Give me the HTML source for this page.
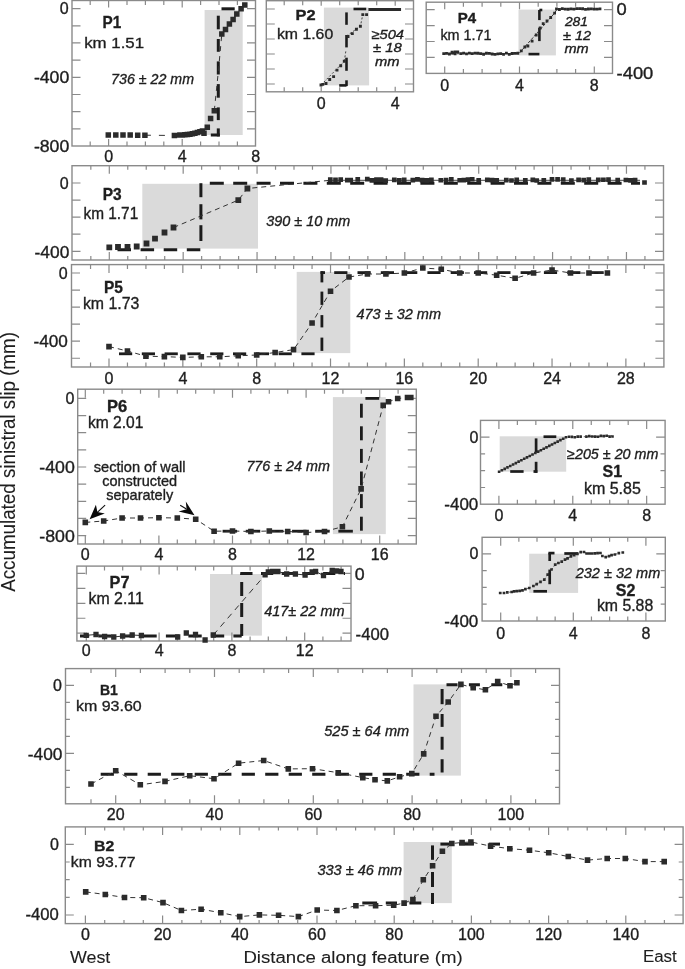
<!DOCTYPE html>
<html><head><meta charset="utf-8"><style>
html,body{margin:0;padding:0;background:#fff;}
svg{display:block;will-change:transform;}
text{font-family:"Liberation Sans", sans-serif;fill:#1e1e1e;stroke:#1e1e1e;stroke-width:0.35px;}
</style></head><body>
<svg width="685" height="969" viewBox="0 0 685 969">
<rect width="685" height="969" fill="#fff"/>
<rect x="204.6" y="10" width="38.1" height="125" fill="#dadada"/>
<rect x="323.9" y="7.6" width="45.2" height="77.8" fill="#dadada"/>
<rect x="518.5" y="9.6" width="37.4" height="45.8" fill="#dadada"/>
<rect x="142.3" y="183.8" width="115.7" height="64.8" fill="#dadada"/>
<rect x="296.7" y="271.9" width="53.6" height="81.2" fill="#dadada"/>
<rect x="332.9" y="397.1" width="52.9" height="137" fill="#dadada"/>
<rect x="210" y="574" width="51.9" height="61.6" fill="#dadada"/>
<rect x="499.7" y="436.3" width="66.5" height="35.4" fill="#dadada"/>
<rect x="529.2" y="553.7" width="48.9" height="39.2" fill="#dadada"/>
<rect x="413.5" y="684.4" width="47.4" height="91.2" fill="#dadada"/>
<rect x="403.6" y="842" width="48.2" height="61.1" fill="#dadada"/>
<rect x="72" y="0.5" width="183.5" height="145.5" fill="none" stroke="#8a8a8a" stroke-width="1.4"/>
<path d="M72 8.6h8.5M255.5 8.6h-8.5M72 25.78h8.5M255.5 25.78h-8.5M72 42.96h8.5M255.5 42.96h-8.5M72 60.14h8.5M255.5 60.14h-8.5M72 77.32h8.5M255.5 77.32h-8.5M72 94.5h8.5M255.5 94.5h-8.5M72 111.68h8.5M255.5 111.68h-8.5M72 128.86h8.5M255.5 128.86h-8.5" stroke="#8a8a8a" stroke-width="1.2" fill="none"/>
<path d="M90.2 146v-4.5M90.2 0.5v4.5M108.6 146v-7M108.6 0.5v7M127 146v-4.5M127 0.5v4.5M145.4 146v-4.5M145.4 0.5v4.5M163.8 146v-4.5M163.8 0.5v4.5M182.2 146v-7M182.2 0.5v7M200.6 146v-4.5M200.6 0.5v4.5M219 146v-4.5M219 0.5v4.5M237.4 146v-4.5M237.4 0.5v4.5" stroke="#8a8a8a" stroke-width="1.2" fill="none"/>
<rect x="266.3" y="0.7" width="147.2" height="91.1" fill="none" stroke="#8a8a8a" stroke-width="1.4"/>
<path d="M266.3 9h8.5M413.5 9h-8.5M266.3 24h8.5M413.5 24h-8.5M266.3 39h8.5M413.5 39h-8.5M266.3 54h8.5M413.5 54h-8.5M266.3 69h8.5M413.5 69h-8.5M266.3 84h8.5M413.5 84h-8.5" stroke="#8a8a8a" stroke-width="1.2" fill="none"/>
<path d="M284.2 91.8v-4.5M284.2 0.7v4.5M302.7 91.8v-4.5M302.7 0.7v4.5M321.2 91.8v-5M321.2 0.7v5M339.7 91.8v-4.5M339.7 0.7v4.5M358.2 91.8v-4.5M358.2 0.7v4.5M376.7 91.8v-4.5M376.7 0.7v4.5M395.2 91.8v-5M395.2 0.7v5" stroke="#8a8a8a" stroke-width="1.2" fill="none"/>
<rect x="426.2" y="2.2" width="186.3" height="71.2" fill="none" stroke="#8a8a8a" stroke-width="1.4"/>
<path d="M426.2 9.6h8.5M612.5 9.6h-8.5M426.2 25.55h8.5M612.5 25.55h-8.5M426.2 41.5h8.5M612.5 41.5h-8.5M426.2 57.45h8.5M612.5 57.45h-8.5" stroke="#8a8a8a" stroke-width="1.2" fill="none"/>
<path d="M444.7 73.4v-7M444.7 2.2v7M463.4 73.4v-4.5M463.4 2.2v4.5M482.1 73.4v-4.5M482.1 2.2v4.5M500.8 73.4v-4.5M500.8 2.2v4.5M519.5 73.4v-7M519.5 2.2v7M538.2 73.4v-4.5M538.2 2.2v4.5M556.9 73.4v-4.5M556.9 2.2v4.5M575.6 73.4v-4.5M575.6 2.2v4.5M594.3 73.4v-7M594.3 2.2v7" stroke="#8a8a8a" stroke-width="1.2" fill="none"/>
<rect x="72" y="165.7" width="591.5" height="94.3" fill="none" stroke="#8a8a8a" stroke-width="1.4"/>
<path d="M72 183h8.5M663.5 183h-8.5M72 200.07h8.5M663.5 200.07h-8.5M72 217.14h8.5M663.5 217.14h-8.5M72 234.21h8.5M663.5 234.21h-8.5M72 251.28h8.5M663.5 251.28h-8.5" stroke="#8a8a8a" stroke-width="1.2" fill="none"/>
<path d="M90.83 260v-4M90.83 165.7v4M109.3 260v-8M109.3 165.7v8M127.77 260v-4M127.77 165.7v4M146.24 260v-4M146.24 165.7v4M164.71 260v-4M164.71 165.7v4M183.18 260v-8M183.18 165.7v8M201.65 260v-4M201.65 165.7v4M220.12 260v-4M220.12 165.7v4M238.59 260v-4M238.59 165.7v4M257.06 260v-8M257.06 165.7v8M275.53 260v-4M275.53 165.7v4M294 260v-4M294 165.7v4M312.47 260v-4M312.47 165.7v4M330.94 260v-8M330.94 165.7v8M349.41 260v-4M349.41 165.7v4M367.88 260v-4M367.88 165.7v4M386.35 260v-4M386.35 165.7v4M404.82 260v-8M404.82 165.7v8M423.29 260v-4M423.29 165.7v4M441.76 260v-4M441.76 165.7v4M460.23 260v-4M460.23 165.7v4M478.7 260v-8M478.7 165.7v8M497.17 260v-4M497.17 165.7v4M515.64 260v-4M515.64 165.7v4M534.11 260v-4M534.11 165.7v4M552.58 260v-8M552.58 165.7v8M571.05 260v-4M571.05 165.7v4M589.52 260v-4M589.52 165.7v4M607.99 260v-4M607.99 165.7v4M626.46 260v-8M626.46 165.7v8M644.93 260v-4M644.93 165.7v4" stroke="#8a8a8a" stroke-width="1.2" fill="none"/>
<rect x="71.5" y="264.6" width="592.4" height="102.4" fill="none" stroke="#8a8a8a" stroke-width="1.4"/>
<path d="M71.5 273h8.5M663.9 273h-8.5M71.5 290.05h8.5M663.9 290.05h-8.5M71.5 307.1h8.5M663.9 307.1h-8.5M71.5 324.15h8.5M663.9 324.15h-8.5M71.5 341.2h8.5M663.9 341.2h-8.5M71.5 358.25h8.5M663.9 358.25h-8.5" stroke="#8a8a8a" stroke-width="1.2" fill="none"/>
<path d="M90.54 367v-4.5M90.54 264.6v4.5M109 367v-8.5M109 264.6v8.5M127.46 367v-4.5M127.46 264.6v4.5M145.92 367v-4.5M145.92 264.6v4.5M164.38 367v-4.5M164.38 264.6v4.5M182.84 367v-8.5M182.84 264.6v8.5M201.3 367v-4.5M201.3 264.6v4.5M219.76 367v-4.5M219.76 264.6v4.5M238.22 367v-4.5M238.22 264.6v4.5M256.68 367v-8.5M256.68 264.6v8.5M275.14 367v-4.5M275.14 264.6v4.5M293.6 367v-4.5M293.6 264.6v4.5M312.06 367v-4.5M312.06 264.6v4.5M330.52 367v-8.5M330.52 264.6v8.5M348.98 367v-4.5M348.98 264.6v4.5M367.44 367v-4.5M367.44 264.6v4.5M385.9 367v-4.5M385.9 264.6v4.5M404.36 367v-8.5M404.36 264.6v8.5M422.82 367v-4.5M422.82 264.6v4.5M441.28 367v-4.5M441.28 264.6v4.5M459.74 367v-4.5M459.74 264.6v4.5M478.2 367v-8.5M478.2 264.6v8.5M496.66 367v-4.5M496.66 264.6v4.5M515.12 367v-4.5M515.12 264.6v4.5M533.58 367v-4.5M533.58 264.6v4.5M552.04 367v-8.5M552.04 264.6v8.5M570.5 367v-4.5M570.5 264.6v4.5M588.96 367v-4.5M588.96 264.6v4.5M607.42 367v-4.5M607.42 264.6v4.5M625.88 367v-8.5M625.88 264.6v8.5M644.34 367v-4.5M644.34 264.6v4.5" stroke="#8a8a8a" stroke-width="1.2" fill="none"/>
<rect x="77.7" y="389.2" width="338.6" height="154.8" fill="none" stroke="#8a8a8a" stroke-width="1.4"/>
<path d="M77.7 398.4h8.5M416.3 398.4h-8.5M77.7 415.55h8.5M416.3 415.55h-8.5M77.7 432.7h8.5M416.3 432.7h-8.5M77.7 449.85h8.5M416.3 449.85h-8.5M77.7 467h8.5M416.3 467h-8.5M77.7 484.15h8.5M416.3 484.15h-8.5M77.7 501.3h8.5M416.3 501.3h-8.5M77.7 518.45h8.5M416.3 518.45h-8.5M77.7 535.6h8.5M416.3 535.6h-8.5" stroke="#8a8a8a" stroke-width="1.2" fill="none"/>
<path d="M85.3 544v-8.5M85.3 389.2v8.5M103.7 544v-4.5M103.7 389.2v4.5M122.1 544v-4.5M122.1 389.2v4.5M140.5 544v-4.5M140.5 389.2v4.5M158.9 544v-8.5M158.9 389.2v8.5M177.3 544v-4.5M177.3 389.2v4.5M195.7 544v-4.5M195.7 389.2v4.5M214.1 544v-4.5M214.1 389.2v4.5M232.5 544v-8.5M232.5 389.2v8.5M250.9 544v-4.5M250.9 389.2v4.5M269.3 544v-4.5M269.3 389.2v4.5M287.7 544v-4.5M287.7 389.2v4.5M306.1 544v-8.5M306.1 389.2v8.5M324.5 544v-4.5M324.5 389.2v4.5M342.9 544v-4.5M342.9 389.2v4.5M361.3 544v-4.5M361.3 389.2v4.5M379.7 544v-8.5M379.7 389.2v8.5M398.1 544v-4.5M398.1 389.2v4.5" stroke="#8a8a8a" stroke-width="1.2" fill="none"/>
<rect x="76.9" y="566.1" width="274.1" height="74.9" fill="none" stroke="#8a8a8a" stroke-width="1.4"/>
<path d="M76.9 573.4h8.5M351 573.4h-8.5M76.9 588.35h8.5M351 588.35h-8.5M76.9 603.3h8.5M351 603.3h-8.5M76.9 618.25h8.5M351 618.25h-8.5M76.9 633.2h8.5M351 633.2h-8.5" stroke="#8a8a8a" stroke-width="1.2" fill="none"/>
<path d="M86.3 641v-8.5M86.3 566.1v8.5M104.5 641v-4.5M104.5 566.1v4.5M122.7 641v-4.5M122.7 566.1v4.5M140.9 641v-4.5M140.9 566.1v4.5M159.1 641v-8.5M159.1 566.1v8.5M177.3 641v-4.5M177.3 566.1v4.5M195.5 641v-4.5M195.5 566.1v4.5M213.7 641v-4.5M213.7 566.1v4.5M231.9 641v-8.5M231.9 566.1v8.5M250.1 641v-4.5M250.1 566.1v4.5M268.3 641v-4.5M268.3 566.1v4.5M286.5 641v-4.5M286.5 566.1v4.5M304.7 641v-8.5M304.7 566.1v8.5M322.9 641v-4.5M322.9 566.1v4.5M341.1 641v-4.5M341.1 566.1v4.5" stroke="#8a8a8a" stroke-width="1.2" fill="none"/>
<rect x="480.5" y="420.4" width="184.6" height="83.8" fill="none" stroke="#8a8a8a" stroke-width="1.4"/>
<path d="M480.5 437.1h9M665.1 437.1h-9M480.5 453.9h4.6M665.1 453.9h-4.6M480.5 470.7h4.6M665.1 470.7h-4.6M480.5 487.5h4.6M665.1 487.5h-4.6" stroke="#8a8a8a" stroke-width="1.2" fill="none"/>
<path d="M498.9 504.2v-8.5M498.9 420.4v8.5M517.37 504.2v-4.5M517.37 420.4v4.5M535.84 504.2v-4.5M535.84 420.4v4.5M554.31 504.2v-4.5M554.31 420.4v4.5M572.78 504.2v-8.5M572.78 420.4v8.5M591.25 504.2v-4.5M591.25 420.4v4.5M609.72 504.2v-4.5M609.72 420.4v4.5M628.19 504.2v-4.5M628.19 420.4v4.5M646.66 504.2v-8.5M646.66 420.4v8.5" stroke="#8a8a8a" stroke-width="1.2" fill="none"/>
<rect x="482.1" y="537.3" width="183.2" height="83.7" fill="none" stroke="#8a8a8a" stroke-width="1.4"/>
<path d="M482.1 553.8h9M665.3 553.8h-9M482.1 570.6h4.6M665.3 570.6h-4.6M482.1 587.4h4.6M665.3 587.4h-4.6M482.1 604.2h4.6M665.3 604.2h-4.6" stroke="#8a8a8a" stroke-width="1.2" fill="none"/>
<path d="M500.7 621v-8.5M500.7 537.3v8.5M518.85 621v-4.5M518.85 537.3v4.5M537 621v-4.5M537 537.3v4.5M555.15 621v-4.5M555.15 537.3v4.5M573.3 621v-8.5M573.3 537.3v8.5M591.45 621v-4.5M591.45 537.3v4.5M609.6 621v-4.5M609.6 537.3v4.5M627.75 621v-4.5M627.75 537.3v4.5M645.9 621v-8.5M645.9 537.3v8.5" stroke="#8a8a8a" stroke-width="1.2" fill="none"/>
<rect x="65.5" y="668.6" width="494" height="135.2" fill="none" stroke="#8a8a8a" stroke-width="1.4"/>
<path d="M65.5 685.3h8.5M559.5 685.3h-8.5M65.5 702.3h4.4M559.5 702.3h-4.4M65.5 719.3h4.4M559.5 719.3h-4.4M65.5 736.3h4.4M559.5 736.3h-4.4M65.5 753.3h8.5M559.5 753.3h-8.5M65.5 770.3h4.4M559.5 770.3h-4.4M65.5 787.3h4.4M559.5 787.3h-4.4" stroke="#8a8a8a" stroke-width="1.2" fill="none"/>
<path d="M91 803.8v-4.5M91 668.6v4.5M115.7 803.8v-8.5M115.7 668.6v8.5M140.4 803.8v-4.5M140.4 668.6v4.5M165.1 803.8v-4.5M165.1 668.6v4.5M189.8 803.8v-4.5M189.8 668.6v4.5M214.5 803.8v-8.5M214.5 668.6v8.5M239.2 803.8v-4.5M239.2 668.6v4.5M263.9 803.8v-4.5M263.9 668.6v4.5M288.6 803.8v-4.5M288.6 668.6v4.5M313.3 803.8v-8.5M313.3 668.6v8.5M338 803.8v-4.5M338 668.6v4.5M362.7 803.8v-4.5M362.7 668.6v4.5M387.4 803.8v-4.5M387.4 668.6v4.5M412.1 803.8v-8.5M412.1 668.6v8.5M436.8 803.8v-4.5M436.8 668.6v4.5M461.5 803.8v-4.5M461.5 668.6v4.5M486.2 803.8v-4.5M486.2 668.6v4.5M510.9 803.8v-8.5M510.9 668.6v8.5M535.6 803.8v-4.5M535.6 668.6v4.5" stroke="#8a8a8a" stroke-width="1.2" fill="none"/>
<rect x="65.3" y="826.9" width="617.8" height="96.7" fill="none" stroke="#8a8a8a" stroke-width="1.4"/>
<path d="M65.3 844.3h8.5M683.1 844.3h-8.5M65.3 861.98h4.4M683.1 861.98h-4.4M65.3 879.66h4.4M683.1 879.66h-4.4M65.3 897.34h4.4M683.1 897.34h-4.4M65.3 915.02h8.5M683.1 915.02h-8.5" stroke="#8a8a8a" stroke-width="1.2" fill="none"/>
<path d="M85.4 923.6v-8M85.4 826.9v8M104.7 923.6v-3.5M104.7 826.9v3.5M124 923.6v-3.5M124 826.9v3.5M143.3 923.6v-3.5M143.3 826.9v3.5M162.6 923.6v-8M162.6 826.9v8M181.9 923.6v-3.5M181.9 826.9v3.5M201.2 923.6v-3.5M201.2 826.9v3.5M220.5 923.6v-3.5M220.5 826.9v3.5M239.8 923.6v-8M239.8 826.9v8M259.1 923.6v-3.5M259.1 826.9v3.5M278.4 923.6v-3.5M278.4 826.9v3.5M297.7 923.6v-3.5M297.7 826.9v3.5M317 923.6v-8M317 826.9v8M336.3 923.6v-3.5M336.3 826.9v3.5M355.6 923.6v-3.5M355.6 826.9v3.5M374.9 923.6v-3.5M374.9 826.9v3.5M394.2 923.6v-8M394.2 826.9v8M413.5 923.6v-3.5M413.5 826.9v3.5M432.8 923.6v-3.5M432.8 826.9v3.5M452.1 923.6v-3.5M452.1 826.9v3.5M471.4 923.6v-8M471.4 826.9v8M490.7 923.6v-3.5M490.7 826.9v3.5M510 923.6v-3.5M510 826.9v3.5M529.3 923.6v-3.5M529.3 826.9v3.5M548.6 923.6v-8M548.6 826.9v8M567.9 923.6v-3.5M567.9 826.9v3.5M587.2 923.6v-3.5M587.2 826.9v3.5M606.5 923.6v-3.5M606.5 826.9v3.5M625.8 923.6v-8M625.8 826.9v8M645.1 923.6v-3.5M645.1 826.9v3.5M664.4 923.6v-3.5M664.4 826.9v3.5" stroke="#8a8a8a" stroke-width="1.2" fill="none"/>
<line x1="221.5" y1="8.8" x2="234.7" y2="8.8" stroke="#1c1c1c" stroke-width="3" />
<line x1="218.3" y1="15.7" x2="218.3" y2="29.3" stroke="#1c1c1c" stroke-width="3" />
<line x1="218.3" y1="39" x2="218.3" y2="51.8" stroke="#1c1c1c" stroke-width="3" />
<line x1="218.3" y1="61.4" x2="218.3" y2="74.5" stroke="#1c1c1c" stroke-width="3" />
<line x1="218.3" y1="84.1" x2="218.3" y2="97.7" stroke="#1c1c1c" stroke-width="3" />
<line x1="218.3" y1="107.4" x2="218.3" y2="120.1" stroke="#1c1c1c" stroke-width="3" />
<line x1="218.3" y1="128.4" x2="218.3" y2="136.4" stroke="#1c1c1c" stroke-width="3" />
<line x1="210.8" y1="135" x2="219.8" y2="135" stroke="#1c1c1c" stroke-width="3" />
<path d="M144.9 135.2 L174.4 135.5" stroke="#333" stroke-width="1" fill="none" stroke-dasharray="6 8"/>
<path d="M214.3 110.8 L218.5 70 L221.8 34" stroke="#333" stroke-width="1" fill="none" stroke-dasharray="5 5"/>
<path d="M105.55 132.15h5.5v5.5h-5.5zM113.05 132.15h5.5v5.5h-5.5zM120.25 132.15h5.5v5.5h-5.5zM127.45 132.15h5.5v5.5h-5.5zM134.95 132.45h5.5v5.5h-5.5zM142.15 132.45h5.5v5.5h-5.5zM171.65 132.75h5.5v5.5h-5.5zM177.15 132.25h5.5v5.5h-5.5zM179.65 132.2h5.5v5.5h-5.5zM182.15 132.05h5.5v5.5h-5.5zM184.65 131.8h5.5v5.5h-5.5zM187.15 131.45h5.5v5.5h-5.5zM189.65 131h5.5v5.5h-5.5zM192.15 130.45h5.5v5.5h-5.5zM194.65 129.8h5.5v5.5h-5.5zM197.15 129.05h5.5v5.5h-5.5zM199.65 128.2h5.5v5.5h-5.5zM201.25 130.45h5.5v5.5h-5.5zM204.55 124.45h5.5v5.5h-5.5zM207.85 115.75h5.5v5.5h-5.5zM211.55 108.05h5.5v5.5h-5.5zM219.05 31.25h5.5v5.5h-5.5zM222.75 26.65h5.5v5.5h-5.5zM226.65 21.35h5.5v5.5h-5.5zM230.35 16.85h5.5v5.5h-5.5zM234.05 11.35h5.5v5.5h-5.5zM238.35 6.05h5.5v5.5h-5.5zM242.05 2.35h5.5v5.5h-5.5z" fill="#2b2b2b"/>
<line x1="353.5" y1="9" x2="366.2" y2="9" stroke="#1c1c1c" stroke-width="2.6" />
<line x1="346.5" y1="12.4" x2="346.5" y2="24.8" stroke="#1c1c1c" stroke-width="2.6" />
<line x1="346.5" y1="35" x2="346.5" y2="47.4" stroke="#1c1c1c" stroke-width="2.6" />
<line x1="346.5" y1="57.7" x2="346.5" y2="70.8" stroke="#1c1c1c" stroke-width="2.6" />
<line x1="346.5" y1="80.3" x2="346.5" y2="86.1" stroke="#1c1c1c" stroke-width="2.6" />
<line x1="339.2" y1="85.4" x2="346.5" y2="85.4" stroke="#1c1c1c" stroke-width="2.6" />
<path d="M321 85 L344.3 61.3" stroke="#333" stroke-width="0.9" fill="none" stroke-dasharray="2 2"/>
<path d="M344.3 61.3 L346 50" stroke="#333" stroke-width="0.9" fill="none" stroke-dasharray="2 2"/>
<path d="M346.5 36 L360.4 26.3 L362.8 14.6" stroke="#333" stroke-width="0.9" fill="none" stroke-dasharray="2 2"/>
<path d="M319.55 83.55h2.9v2.9h-2.9zM321.35 82.95h2.9v2.9h-2.9zM324.55 82.05h2.9v2.9h-2.9zM328.25 78.05h2.9v2.9h-2.9zM332.15 75.15h2.9v2.9h-2.9zM335.55 68.65h2.9v2.9h-2.9zM339.25 64.25h2.9v2.9h-2.9zM342.85 59.85h2.9v2.9h-2.9zM346.55 35.05h2.9v2.9h-2.9zM350.85 32.15h2.9v2.9h-2.9zM354.95 27.75h2.9v2.9h-2.9zM358.95 24.85h2.9v2.9h-2.9zM361.35 13.15h2.9v2.9h-2.9zM365.15 13.15h2.9v2.9h-2.9zM368.45 8.05h2.9v2.9h-2.9zM371.15 8.05h2.9v2.9h-2.9zM373.85 8.05h2.9v2.9h-2.9zM376.55 8.05h2.9v2.9h-2.9zM379.25 8.05h2.9v2.9h-2.9zM381.95 8.05h2.9v2.9h-2.9zM384.65 8.05h2.9v2.9h-2.9zM387.35 8.05h2.9v2.9h-2.9zM390.05 8.05h2.9v2.9h-2.9zM392.75 8.05h2.9v2.9h-2.9zM395.45 8.05h2.9v2.9h-2.9zM398.15 8.05h2.9v2.9h-2.9z" fill="#2b2b2b"/>
<line x1="539.4" y1="10" x2="539.4" y2="20.1" stroke="#1c1c1c" stroke-width="2.6" />
<line x1="539.4" y1="10" x2="542.3" y2="10" stroke="#1c1c1c" stroke-width="2.6" />
<line x1="539.4" y1="27.7" x2="539.4" y2="41.1" stroke="#1c1c1c" stroke-width="2.6" />
<line x1="528.5" y1="54.1" x2="539.4" y2="54.1" stroke="#1c1c1c" stroke-width="2.6" />
<path d="M443 53.8 L519 53.5 L554.6 13.1 L557 9.2 L600 9.2" stroke="#333" stroke-width="1" fill="none" stroke-dasharray="3 1.5"/>
<path d="M442.3 52.15h2.8v2.8h-2.8zM445.15 51.91h2.8v2.8h-2.8zM448 52.61h2.8v2.8h-2.8zM450.85 51.8h2.8v2.8h-2.8zM453.7 52.45h2.8v2.8h-2.8zM459.4 52.21h2.8v2.8h-2.8zM462.25 51.78h2.8v2.8h-2.8zM465.1 52.41h2.8v2.8h-2.8zM467.95 51.75h2.8v2.8h-2.8zM470.8 52.31h2.8v2.8h-2.8zM473.65 51.8h2.8v2.8h-2.8zM476.5 51.83h2.8v2.8h-2.8zM479.35 52.29h2.8v2.8h-2.8zM482.2 52.86h2.8v2.8h-2.8zM485.05 51.87h2.8v2.8h-2.8zM487.9 52.01h2.8v2.8h-2.8zM490.75 52.58h2.8v2.8h-2.8zM493.6 53.03h2.8v2.8h-2.8zM496.45 52.51h2.8v2.8h-2.8zM499.3 52.26h2.8v2.8h-2.8zM502.15 53.07h2.8v2.8h-2.8zM505 51.77h2.8v2.8h-2.8zM507.85 52.9h2.8v2.8h-2.8zM510.7 52.11h2.8v2.8h-2.8zM513.55 51.9h2.8v2.8h-2.8zM516.4 51.86h2.8v2.8h-2.8zM450.6 50.8h2.8v2.8h-2.8zM456.4 50.4h2.8v2.8h-2.8zM453.6 50.6h2.8v2.8h-2.8zM519.9 49.4h2.8v2.8h-2.8zM523.4 45.6h2.8v2.8h-2.8zM526.5 44.6h2.8v2.8h-2.8zM530.7 39.8h2.8v2.8h-2.8zM534.8 33.6h2.8v2.8h-2.8zM538.8 26.6h2.8v2.8h-2.8zM541.8 22.3h2.8v2.8h-2.8zM545.6 19.6h2.8v2.8h-2.8zM549.3 16.1h2.8v2.8h-2.8zM553.2 11.7h2.8v2.8h-2.8zM555.1 7.47h2.8v2.8h-2.8zM558 8.08h2.8v2.8h-2.8zM560.9 7.32h2.8v2.8h-2.8zM563.8 7.8h2.8v2.8h-2.8zM566.7 7.87h2.8v2.8h-2.8zM569.6 7.55h2.8v2.8h-2.8zM572.5 7.76h2.8v2.8h-2.8zM575.4 7.18h2.8v2.8h-2.8zM578.3 7.17h2.8v2.8h-2.8zM581.2 7.35h2.8v2.8h-2.8zM584.1 7.92h2.8v2.8h-2.8zM587 7.61h2.8v2.8h-2.8zM589.9 7.48h2.8v2.8h-2.8zM592.8 7.8h2.8v2.8h-2.8zM595.7 7.64h2.8v2.8h-2.8zM598.6 7.46h2.8v2.8h-2.8z" fill="#2b2b2b"/>
<path d="M117.5 249.8 L200.5 249.8" stroke="#1c1c1c" stroke-width="3" fill="none" stroke-dasharray="13.5 9.6" stroke-dashoffset="0"/>
<line x1="200.9" y1="183.2" x2="200.9" y2="197.2" stroke="#1c1c1c" stroke-width="3" />
<line x1="200.9" y1="204.2" x2="200.9" y2="219.4" stroke="#1c1c1c" stroke-width="3" />
<line x1="200.9" y1="225.2" x2="200.9" y2="241" stroke="#1c1c1c" stroke-width="3" />
<path d="M209.8 183.2 L640 183.2" stroke="#1c1c1c" stroke-width="3" fill="none" stroke-dasharray="14 9.4" stroke-dashoffset="0"/>
<path d="M173.5 227.5 L238.3 200.1 L247.4 188.5 L328 180.5" stroke="#333" stroke-width="1" fill="none" stroke-dasharray="5 4"/>
<path d="M328 180.3 L640 180.3" stroke="#333" stroke-width="0.9" fill="none" stroke-dasharray="100 0"/>
<path d="M106.4 244.5h5.8v5.8h-5.8zM115.1 244.1h5.8v5.8h-5.8zM124.6 244.1h5.8v5.8h-5.8zM133.8 243.6h5.8v5.8h-5.8zM143.6 240.6h5.8v5.8h-5.8zM152.1 235.7h5.8v5.8h-5.8zM161.6 229.6h5.8v5.8h-5.8zM170.6 224.6h5.8v5.8h-5.8zM235.4 197.2h5.8v5.8h-5.8zM244.5 185.6h5.8v5.8h-5.8z" fill="#2b2b2b"/>
<path d="M327.95 177.18h4.7v4.7h-4.7zM333.15 177.61h4.7v4.7h-4.7zM338.35 177.37h4.7v4.7h-4.7zM344.95 177.7h4.7v4.7h-4.7zM348.35 177.73h4.7v4.7h-4.7zM355.4 176.94h4.7v4.7h-4.7zM364.95 176.87h4.7v4.7h-4.7zM369.55 178.02h4.7v4.7h-4.7zM374.15 177.21h4.7v4.7h-4.7zM378.75 177.18h4.7v4.7h-4.7zM383.35 178.24h4.7v4.7h-4.7zM391.95 177.51h4.7v4.7h-4.7zM396.9 178.02h4.7v4.7h-4.7zM401.85 177.52h4.7v4.7h-4.7zM410.45 177.74h4.7v4.7h-4.7zM415.1 177.06h4.7v4.7h-4.7zM419.75 177.74h4.7v4.7h-4.7zM424.4 178.07h4.7v4.7h-4.7zM429.05 177.58h4.7v4.7h-4.7zM438.45 177.89h4.7v4.7h-4.7zM443.7 177.79h4.7v4.7h-4.7zM448.95 176.94h4.7v4.7h-4.7zM457.35 177.91h4.7v4.7h-4.7zM461.52 177.68h4.7v4.7h-4.7zM465.68 177.27h4.7v4.7h-4.7zM469.85 176.89h4.7v4.7h-4.7zM476.35 178.06h4.7v4.7h-4.7zM484.95 177.51h4.7v4.7h-4.7zM489.65 177.86h4.7v4.7h-4.7zM494.35 178.08h4.7v4.7h-4.7zM503.95 177.85h4.7v4.7h-4.7zM509.15 178.14h4.7v4.7h-4.7zM514.35 177.4h4.7v4.7h-4.7zM522.95 177.97h4.7v4.7h-4.7zM530.45 177.47h4.7v4.7h-4.7zM534.35 178.16h4.7v4.7h-4.7zM541.45 178.08h4.7v4.7h-4.7zM549.65 176.99h4.7v4.7h-4.7zM555.25 177.04h4.7v4.7h-4.7zM560.85 177.15h4.7v4.7h-4.7zM569.05 178.2h4.7v4.7h-4.7zM576.25 177.46h4.7v4.7h-4.7zM581.35 177.73h4.7v4.7h-4.7zM586.45 177.27h4.7v4.7h-4.7zM595.95 177.56h4.7v4.7h-4.7zM601.05 177.39h4.7v4.7h-4.7zM606.15 177.34h4.7v4.7h-4.7zM615.35 177.67h4.7v4.7h-4.7zM623.55 177.67h4.7v4.7h-4.7zM628.15 178.12h4.7v4.7h-4.7zM632.75 177.8h4.7v4.7h-4.7zM642.15 180.15h4.7v4.7h-4.7z" fill="#2b2b2b"/>
<line x1="119" y1="353.8" x2="132.2" y2="353.8" stroke="#1c1c1c" stroke-width="2.8" />
<line x1="141.8" y1="353.8" x2="155" y2="353.8" stroke="#1c1c1c" stroke-width="2.8" />
<line x1="164.6" y1="353.8" x2="177.8" y2="353.8" stroke="#1c1c1c" stroke-width="2.8" />
<line x1="187.4" y1="353.8" x2="200.6" y2="353.8" stroke="#1c1c1c" stroke-width="2.8" />
<line x1="210.2" y1="353.8" x2="223.4" y2="353.8" stroke="#1c1c1c" stroke-width="2.8" />
<line x1="233" y1="353.8" x2="246.2" y2="353.8" stroke="#1c1c1c" stroke-width="2.8" />
<line x1="255.8" y1="353.8" x2="269" y2="353.8" stroke="#1c1c1c" stroke-width="2.8" />
<line x1="278.6" y1="353.8" x2="291.8" y2="353.8" stroke="#1c1c1c" stroke-width="2.8" />
<line x1="301.4" y1="353.8" x2="314.6" y2="353.8" stroke="#1c1c1c" stroke-width="2.8" />
<line x1="321.9" y1="271.2" x2="321.9" y2="282.4" stroke="#1c1c1c" stroke-width="2.8" />
<line x1="321.9" y1="291.6" x2="321.9" y2="304.9" stroke="#1c1c1c" stroke-width="2.8" />
<line x1="321.9" y1="315.1" x2="321.9" y2="327.4" stroke="#1c1c1c" stroke-width="2.8" />
<line x1="321.9" y1="337.6" x2="321.9" y2="350.9" stroke="#1c1c1c" stroke-width="2.8" />
<line x1="320.5" y1="272.6" x2="325" y2="272.6" stroke="#1c1c1c" stroke-width="2.8" />
<line x1="334.2" y1="272.6" x2="347.4" y2="272.6" stroke="#1c1c1c" stroke-width="2.8" />
<line x1="357.5" y1="272.6" x2="370.7" y2="272.6" stroke="#1c1c1c" stroke-width="2.8" />
<line x1="380.8" y1="272.6" x2="394" y2="272.6" stroke="#1c1c1c" stroke-width="2.8" />
<line x1="404.1" y1="272.6" x2="417.3" y2="272.6" stroke="#1c1c1c" stroke-width="2.8" />
<line x1="427.4" y1="272.6" x2="440.6" y2="272.6" stroke="#1c1c1c" stroke-width="2.8" />
<line x1="450.7" y1="272.6" x2="463.9" y2="272.6" stroke="#1c1c1c" stroke-width="2.8" />
<line x1="474" y1="272.6" x2="487.2" y2="272.6" stroke="#1c1c1c" stroke-width="2.8" />
<line x1="497.3" y1="272.6" x2="510.5" y2="272.6" stroke="#1c1c1c" stroke-width="2.8" />
<line x1="520.6" y1="272.6" x2="533.8" y2="272.6" stroke="#1c1c1c" stroke-width="2.8" />
<line x1="543.9" y1="272.6" x2="557.1" y2="272.6" stroke="#1c1c1c" stroke-width="2.8" />
<line x1="567.2" y1="272.6" x2="580.4" y2="272.6" stroke="#1c1c1c" stroke-width="2.8" />
<line x1="590.5" y1="272.6" x2="603.7" y2="272.6" stroke="#1c1c1c" stroke-width="2.8" />
<path d="M109 346.6 L127.46 351 L145.92 356.2 L164.38 356.6 L182.84 357.4 L201.3 356.8 L219.76 356.8 L238.22 355.8 L256.68 355 L275.14 352.5 L293.6 349.6 L312.06 323 L330.52 291.2 L348.98 277 L367.44 274 L385.9 274 L404.36 273 L422.82 268 L441.28 269.2 L459.74 273 L478.2 273 L496.66 275.2 L515.12 278.3 L533.58 273 L552.04 270 L570.5 273 L588.96 273 L607.42 273" stroke="#333" stroke-width="1" fill="none" stroke-dasharray="5 4"/>
<path d="M106.2 343.8h5.6v5.6h-5.6zM124.66 348.2h5.6v5.6h-5.6zM143.12 353.4h5.6v5.6h-5.6zM161.58 353.8h5.6v5.6h-5.6zM180.04 354.6h5.6v5.6h-5.6zM198.5 354h5.6v5.6h-5.6zM216.96 354h5.6v5.6h-5.6zM235.42 353h5.6v5.6h-5.6zM253.88 352.2h5.6v5.6h-5.6zM272.34 349.7h5.6v5.6h-5.6zM290.8 346.8h5.6v5.6h-5.6zM309.26 320.2h5.6v5.6h-5.6zM327.72 288.4h5.6v5.6h-5.6zM346.18 274.2h5.6v5.6h-5.6zM364.64 271.2h5.6v5.6h-5.6zM383.1 271.2h5.6v5.6h-5.6zM401.56 270.2h5.6v5.6h-5.6zM420.02 265.2h5.6v5.6h-5.6zM438.48 266.4h5.6v5.6h-5.6zM456.94 270.2h5.6v5.6h-5.6zM475.4 270.2h5.6v5.6h-5.6zM493.86 272.4h5.6v5.6h-5.6zM512.32 275.5h5.6v5.6h-5.6zM530.78 270.2h5.6v5.6h-5.6zM549.24 267.2h5.6v5.6h-5.6zM567.7 270.2h5.6v5.6h-5.6zM586.16 270.2h5.6v5.6h-5.6zM604.62 270.2h5.6v5.6h-5.6z" fill="#2b2b2b"/>
<line x1="222.6" y1="531.2" x2="237.1" y2="531.2" stroke="#1c1c1c" stroke-width="2.8" />
<line x1="245.75" y1="531.2" x2="260.25" y2="531.2" stroke="#1c1c1c" stroke-width="2.8" />
<line x1="268.9" y1="531.2" x2="283.4" y2="531.2" stroke="#1c1c1c" stroke-width="2.8" />
<line x1="292.05" y1="531.2" x2="306.55" y2="531.2" stroke="#1c1c1c" stroke-width="2.8" />
<line x1="315.2" y1="531.2" x2="329.7" y2="531.2" stroke="#1c1c1c" stroke-width="2.8" />
<line x1="338.35" y1="531.2" x2="352.85" y2="531.2" stroke="#1c1c1c" stroke-width="2.8" />
<line x1="361.4" y1="403.7" x2="361.4" y2="417.7" stroke="#1c1c1c" stroke-width="2.8" />
<line x1="361.4" y1="426.3" x2="361.4" y2="440.3" stroke="#1c1c1c" stroke-width="2.8" />
<line x1="361.4" y1="448.9" x2="361.4" y2="462.9" stroke="#1c1c1c" stroke-width="2.8" />
<line x1="361.4" y1="471.5" x2="361.4" y2="485.5" stroke="#1c1c1c" stroke-width="2.8" />
<line x1="361.4" y1="494.1" x2="361.4" y2="508.1" stroke="#1c1c1c" stroke-width="2.8" />
<line x1="361.4" y1="516.7" x2="361.4" y2="530.7" stroke="#1c1c1c" stroke-width="2.8" />
<line x1="365.4" y1="398.4" x2="379.2" y2="398.4" stroke="#1c1c1c" stroke-width="2.8" />
<path d="M85.3 522.4 L103.7 521 L122.1 518 L140.5 518 L158.9 517.7 L177.3 518 L195.7 519.2 L214.1 531.2 L232.5 531 L250.9 531.5 L269.3 531 L287.7 531.5 L306.1 532.5 L324.5 531.5 L342.4 526.8 L361.1 488.9 L383.2 405.4 L388.5 401.8 L397.7 398.5 L407.5 397.5 L410.8 397.5" stroke="#333" stroke-width="1" fill="none" stroke-dasharray="5 4"/>
<path d="M82.5 519.6h5.6v5.6h-5.6zM100.9 518.2h5.6v5.6h-5.6zM119.3 515.2h5.6v5.6h-5.6zM137.7 515.2h5.6v5.6h-5.6zM156.1 514.9h5.6v5.6h-5.6zM174.5 515.2h5.6v5.6h-5.6zM192.9 516.4h5.6v5.6h-5.6zM211.3 528.4h5.6v5.6h-5.6zM229.7 528.2h5.6v5.6h-5.6zM248.1 528.7h5.6v5.6h-5.6zM266.5 528.2h5.6v5.6h-5.6zM284.9 528.7h5.6v5.6h-5.6zM303.3 529.7h5.6v5.6h-5.6zM321.7 528.7h5.6v5.6h-5.6zM339.6 524h5.6v5.6h-5.6zM358.3 486.1h5.6v5.6h-5.6zM380.4 402.6h5.6v5.6h-5.6zM385.7 399h5.6v5.6h-5.6zM394.9 395.7h5.6v5.6h-5.6zM404.7 394.7h5.6v5.6h-5.6zM408 394.7h5.6v5.6h-5.6z" fill="#2b2b2b"/>
<path d="M105.1 505.2 L97 512.6" stroke="#111" stroke-width="1.1" fill="none"/>
<path d="M89.6 519.2 L95.9 504.8 L97.4 511.9 L104.8 513.6 Z" fill="#0a0a0a"/>
<path d="M180.2 505.2 L186.4 509" stroke="#111" stroke-width="1.1" fill="none"/>
<path d="M194.5 515.2 L185.8 501.6 L186.6 509.3 L178.6 511.6 Z" fill="#0a0a0a"/>
<path d="M80 635.9 L241.7 635.9" stroke="#1c1c1c" stroke-width="3" fill="none" stroke-dasharray="13.3 9.2" stroke-dashoffset="4.1"/>
<path d="M241.7 635.9 L241.7 573.4" stroke="#1c1c1c" stroke-width="3" fill="none" stroke-dasharray="14 7" stroke-dashoffset="2"/>
<path d="M240.3 573.4 L345 573.4" stroke="#1c1c1c" stroke-width="3" fill="none" stroke-dasharray="12.2 8.5" stroke-dashoffset="0"/>
<path d="M86.2 635.3 L96 634.5 L104.6 636.5 L113.8 637 L122.6 636 L132.2 635 L141.4 635.5" stroke="#333" stroke-width="1" fill="none" stroke-dasharray="100 0"/>
<path d="M213.3 635 L265.1 574.9" stroke="#333" stroke-width="1" fill="none" stroke-dasharray="6 5"/>
<path d="M265.1 574.9 L268.3 572 L272.7 571.5 L277.9 571.5 L286.7 574 L295.4 574 L305.1 575 L312.1 572 L315.6 571.5 L323.5 575.5 L332.2 570.5 L336.6 571 L341 571.5" stroke="#333" stroke-width="1" fill="none" stroke-dasharray="100 0"/>
<path d="M83.55 632.65h5.3v5.3h-5.3zM93.35 631.85h5.3v5.3h-5.3zM101.95 633.85h5.3v5.3h-5.3zM111.15 634.35h5.3v5.3h-5.3zM119.95 633.35h5.3v5.3h-5.3zM129.55 632.35h5.3v5.3h-5.3zM138.75 632.85h5.3v5.3h-5.3zM175.05 634.35h5.3v5.3h-5.3zM183.65 630.35h5.3v5.3h-5.3zM192.85 631.85h5.3v5.3h-5.3zM202.45 637.35h5.3v5.3h-5.3zM210.65 632.35h5.3v5.3h-5.3zM262.45 572.25h5.3v5.3h-5.3zM265.65 569.35h5.3v5.3h-5.3zM270.05 568.85h5.3v5.3h-5.3zM275.25 568.85h5.3v5.3h-5.3zM284.05 571.35h5.3v5.3h-5.3zM292.75 571.35h5.3v5.3h-5.3zM302.45 572.35h5.3v5.3h-5.3zM309.45 569.35h5.3v5.3h-5.3zM312.95 568.85h5.3v5.3h-5.3zM320.85 572.85h5.3v5.3h-5.3zM329.55 567.85h5.3v5.3h-5.3zM333.95 568.35h5.3v5.3h-5.3zM338.35 568.85h5.3v5.3h-5.3z" fill="#2b2b2b"/>
<line x1="510.2" y1="471.5" x2="523.6" y2="471.5" stroke="#1c1c1c" stroke-width="2.7" />
<line x1="533.5" y1="471.5" x2="537.4" y2="471.5" stroke="#1c1c1c" stroke-width="2.7" />
<line x1="536.1" y1="438.4" x2="536.1" y2="452.4" stroke="#1c1c1c" stroke-width="2.7" />
<line x1="536.1" y1="461.8" x2="536.1" y2="472.8" stroke="#1c1c1c" stroke-width="2.7" />
<line x1="543.5" y1="436.7" x2="556.3" y2="436.7" stroke="#1c1c1c" stroke-width="2.7" />
<path d="M499.1 471.7 L566 437.3 L613 435.8" stroke="#333" stroke-width="0.8" fill="none" stroke-dasharray="1.2 1.8"/>
<path d="M497.8 470.4h2.6v2.6h-2.6zM500.59 468.97h2.6v2.6h-2.6zM503.38 467.53h2.6v2.6h-2.6zM506.16 466.1h2.6v2.6h-2.6zM508.95 464.67h2.6v2.6h-2.6zM511.74 463.23h2.6v2.6h-2.6zM514.53 461.8h2.6v2.6h-2.6zM517.31 460.37h2.6v2.6h-2.6zM520.1 458.93h2.6v2.6h-2.6zM522.89 457.5h2.6v2.6h-2.6zM525.68 456.07h2.6v2.6h-2.6zM528.46 454.63h2.6v2.6h-2.6zM531.25 453.2h2.6v2.6h-2.6zM534.04 451.77h2.6v2.6h-2.6zM536.83 450.33h2.6v2.6h-2.6zM539.61 448.9h2.6v2.6h-2.6zM542.4 447.47h2.6v2.6h-2.6zM545.19 446.03h2.6v2.6h-2.6zM547.98 444.6h2.6v2.6h-2.6zM550.76 443.17h2.6v2.6h-2.6zM553.55 441.73h2.6v2.6h-2.6zM556.34 440.3h2.6v2.6h-2.6zM559.12 438.87h2.6v2.6h-2.6zM561.91 437.43h2.6v2.6h-2.6zM564.7 436h2.6v2.6h-2.6zM567.7 435.44h2.6v2.6h-2.6zM570.6 435.53h2.6v2.6h-2.6zM573.5 435.93h2.6v2.6h-2.6zM576.4 435.34h2.6v2.6h-2.6zM579.3 435.35h2.6v2.6h-2.6zM585.1 435.36h2.6v2.6h-2.6zM588 434.84h2.6v2.6h-2.6zM590.9 435.19h2.6v2.6h-2.6zM593.8 435.3h2.6v2.6h-2.6zM596.7 435.45h2.6v2.6h-2.6zM599.6 434.57h2.6v2.6h-2.6zM602.5 434.78h2.6v2.6h-2.6zM605.4 434.49h2.6v2.6h-2.6zM608.3 435.31h2.6v2.6h-2.6zM611.2 435.13h2.6v2.6h-2.6z" fill="#2b2b2b"/>
<line x1="533.4" y1="591.3" x2="547" y2="591.3" stroke="#1c1c1c" stroke-width="2.7" />
<line x1="549.7" y1="553.1" x2="549.7" y2="561" stroke="#1c1c1c" stroke-width="2.7" />
<line x1="548.4" y1="553.1" x2="554.5" y2="553.1" stroke="#1c1c1c" stroke-width="2.7" />
<line x1="549.7" y1="569.6" x2="549.7" y2="584.2" stroke="#1c1c1c" stroke-width="2.7" />
<line x1="564.3" y1="553.5" x2="578.1" y2="553.5" stroke="#1c1c1c" stroke-width="2.7" />
<path d="M500.2 593 L504 593 L507.3 592.3 L511.6 592 L514 591.3 L516.8 591.2 L519.7 590.9 L522.5 590.3 L525.4 589.2 L529.2 588 L533.4 586 L536.7 584.2 L540.5 581.8 L544.3 579.7 L547.7 574.7 L551.5 569.5 L555.2 564.7 L558.4 563 L561.7 561.7 L565 559.7 L567.6 558.4 L570.9 556.4 L574.2 555.1 L577.4 553.8 L580.7 552.1 L584 552 L586.6 553.5 L589.3 553.5 L591.9 553.5 L594.8 553.3 L597.6 553.2 L600.4 553 L602.4 556 L605.7 557.1 L609 556.2 L611.6 555.1 L614.9 554.5 L618.8 553.1 L622.8 552.5" stroke="#333" stroke-width="0.8" fill="none" stroke-dasharray="1.2 1.8"/>
<path d="M498.85 591.65h2.7v2.7h-2.7zM502.65 591.65h2.7v2.7h-2.7zM505.95 590.95h2.7v2.7h-2.7zM510.25 590.65h2.7v2.7h-2.7zM512.65 589.95h2.7v2.7h-2.7zM515.45 589.85h2.7v2.7h-2.7zM518.35 589.55h2.7v2.7h-2.7zM521.15 588.95h2.7v2.7h-2.7zM524.05 587.85h2.7v2.7h-2.7zM527.85 586.65h2.7v2.7h-2.7zM532.05 584.65h2.7v2.7h-2.7zM535.35 582.85h2.7v2.7h-2.7zM539.15 580.45h2.7v2.7h-2.7zM542.95 578.35h2.7v2.7h-2.7zM546.35 573.35h2.7v2.7h-2.7zM550.15 568.15h2.7v2.7h-2.7zM553.85 563.35h2.7v2.7h-2.7zM557.05 561.65h2.7v2.7h-2.7zM560.35 560.35h2.7v2.7h-2.7zM563.65 558.35h2.7v2.7h-2.7zM566.25 557.05h2.7v2.7h-2.7zM569.55 555.05h2.7v2.7h-2.7zM572.85 553.75h2.7v2.7h-2.7zM576.05 552.45h2.7v2.7h-2.7zM579.35 550.75h2.7v2.7h-2.7zM582.65 550.65h2.7v2.7h-2.7zM585.25 552.15h2.7v2.7h-2.7zM587.95 552.15h2.7v2.7h-2.7zM590.55 552.15h2.7v2.7h-2.7zM593.45 551.95h2.7v2.7h-2.7zM596.25 551.85h2.7v2.7h-2.7zM599.05 551.65h2.7v2.7h-2.7zM601.05 554.65h2.7v2.7h-2.7zM604.35 555.75h2.7v2.7h-2.7zM607.65 554.85h2.7v2.7h-2.7zM610.25 553.75h2.7v2.7h-2.7zM613.55 553.15h2.7v2.7h-2.7zM617.45 551.75h2.7v2.7h-2.7zM621.45 551.15h2.7v2.7h-2.7z" fill="#2b2b2b"/>
<path d="M100.7 774.3 L434.5 774.3" stroke="#1c1c1c" stroke-width="3" fill="none" stroke-dasharray="13.2 10.3" stroke-dashoffset="0"/>
<line x1="442.1" y1="689" x2="442.1" y2="704.2" stroke="#1c1c1c" stroke-width="3" />
<line x1="442.1" y1="714" x2="442.1" y2="726.9" stroke="#1c1c1c" stroke-width="3" />
<line x1="442.1" y1="736.8" x2="442.1" y2="749.7" stroke="#1c1c1c" stroke-width="3" />
<line x1="442.1" y1="759.2" x2="442.1" y2="772.5" stroke="#1c1c1c" stroke-width="3" />
<path d="M446.5 684.8 L512 684.8" stroke="#1c1c1c" stroke-width="3" fill="none" stroke-dasharray="11 11.4" stroke-dashoffset="0"/>
<path d="M91 784 L115.7 770.7 L140.3 784.8 L165 781.4 L189.7 775.7 L214 778.7 L238.6 763.2 L263.7 760.5 L288.3 768.9 L312.5 768.7 L338.2 772.7 L362.8 777.6 L375 779.7 L387.3 780.9 L399.6 776.8 L411.8 773.6 L423.7 753.9 L436 716.3 L448.2 702 L460.9 684.4 L473.2 687.7 L485.4 689.8 L497.7 681.6 L510 685.7 L516.9 682.8" stroke="#333" stroke-width="1" fill="none" stroke-dasharray="5 4"/>
<path d="M88.2 781.2h5.6v5.6h-5.6zM112.9 767.9h5.6v5.6h-5.6zM137.5 782h5.6v5.6h-5.6zM162.2 778.6h5.6v5.6h-5.6zM186.9 772.9h5.6v5.6h-5.6zM211.2 775.9h5.6v5.6h-5.6zM235.8 760.4h5.6v5.6h-5.6zM260.9 757.7h5.6v5.6h-5.6zM285.5 766.1h5.6v5.6h-5.6zM309.7 765.9h5.6v5.6h-5.6zM335.4 769.9h5.6v5.6h-5.6zM360 774.8h5.6v5.6h-5.6zM372.2 776.9h5.6v5.6h-5.6zM384.5 778.1h5.6v5.6h-5.6zM396.8 774h5.6v5.6h-5.6zM409 770.8h5.6v5.6h-5.6zM420.9 751.1h5.6v5.6h-5.6zM433.2 713.5h5.6v5.6h-5.6zM445.4 699.2h5.6v5.6h-5.6zM458.1 681.6h5.6v5.6h-5.6zM470.4 684.9h5.6v5.6h-5.6zM482.6 687h5.6v5.6h-5.6zM494.9 678.8h5.6v5.6h-5.6zM507.2 682.9h5.6v5.6h-5.6zM514.1 680h5.6v5.6h-5.6z" fill="#2b2b2b"/>
<line x1="362.3" y1="903" x2="377.1" y2="903" stroke="#1c1c1c" stroke-width="3" />
<line x1="385.8" y1="903" x2="397" y2="903" stroke="#1c1c1c" stroke-width="3" />
<line x1="409.4" y1="903" x2="421.3" y2="903" stroke="#1c1c1c" stroke-width="3" />
<line x1="432.5" y1="845.4" x2="432.5" y2="859.8" stroke="#1c1c1c" stroke-width="3" />
<line x1="432.5" y1="872" x2="432.5" y2="887" stroke="#1c1c1c" stroke-width="3" />
<line x1="432.5" y1="893" x2="432.5" y2="904" stroke="#1c1c1c" stroke-width="3" />
<line x1="440.4" y1="844.1" x2="451.6" y2="844.1" stroke="#1c1c1c" stroke-width="3" />
<line x1="459" y1="844.1" x2="473.9" y2="844.1" stroke="#1c1c1c" stroke-width="3" />
<line x1="488.8" y1="844.1" x2="500" y2="844.1" stroke="#1c1c1c" stroke-width="3" />
<path d="M85.7 891.9 L105.3 894.5 L124.5 897.5 L143.7 897.7 L163 902.6 L181.4 910.5 L201.1 909.2 L220.8 912.7 L239.7 916.6 L259.4 914.9 L278.6 915.3 L298.4 916.6 L317.2 910 L336.9 910.5 L355.9 905.7 L375.6 905.7 L393.7 905.2 L404.1 903.1 L412.9 899.5 L423.3 879.8 L432.6 865.8 L442.4 851.3 L451.8 843.5 L462.1 842.5 L470.9 842 L490.6 846.1 L509.8 848.7 L529.5 850.2 L548.7 852.8 L568.3 856.5 L587.5 860.1 L607.2 858.5 L625.3 858.5 L645 861.6 L664.2 861.6" stroke="#333" stroke-width="1" fill="none" stroke-dasharray="5 4"/>
<path d="M82.9 889.1h5.6v5.6h-5.6zM102.5 891.7h5.6v5.6h-5.6zM121.7 894.7h5.6v5.6h-5.6zM140.9 894.9h5.6v5.6h-5.6zM160.2 899.8h5.6v5.6h-5.6zM178.6 907.7h5.6v5.6h-5.6zM198.3 906.4h5.6v5.6h-5.6zM218 909.9h5.6v5.6h-5.6zM236.9 913.8h5.6v5.6h-5.6zM256.6 912.1h5.6v5.6h-5.6zM275.8 912.5h5.6v5.6h-5.6zM295.6 913.8h5.6v5.6h-5.6zM314.4 907.2h5.6v5.6h-5.6zM334.1 907.7h5.6v5.6h-5.6zM353.1 902.9h5.6v5.6h-5.6zM372.8 902.9h5.6v5.6h-5.6zM390.9 902.4h5.6v5.6h-5.6zM401.3 900.3h5.6v5.6h-5.6zM410.1 896.7h5.6v5.6h-5.6zM420.5 877h5.6v5.6h-5.6zM429.8 863h5.6v5.6h-5.6zM439.6 848.5h5.6v5.6h-5.6zM449 840.7h5.6v5.6h-5.6zM459.3 839.7h5.6v5.6h-5.6zM468.1 839.2h5.6v5.6h-5.6zM487.8 843.3h5.6v5.6h-5.6zM507 845.9h5.6v5.6h-5.6zM526.7 847.4h5.6v5.6h-5.6zM545.9 850h5.6v5.6h-5.6zM565.5 853.7h5.6v5.6h-5.6zM584.7 857.3h5.6v5.6h-5.6zM604.4 855.7h5.6v5.6h-5.6zM622.5 855.7h5.6v5.6h-5.6zM642.2 858.8h5.6v5.6h-5.6zM661.4 858.8h5.6v5.6h-5.6z" fill="#2b2b2b"/>
<text x="102.5" y="28.3" font-size="17" font-weight="bold" textLength="18.7" lengthAdjust="spacingAndGlyphs">P1</text>
<text x="84.2" y="48.2" font-size="15.5" textLength="59.9" lengthAdjust="spacingAndGlyphs">km 1.51</text>
<text x="111.1" y="83.6" font-size="15" font-style="italic" textLength="82.9" lengthAdjust="spacingAndGlyphs">736 ± 22 mm</text>
<text x="68.7" y="14.3" font-size="16" text-anchor="end">0</text>
<text x="33.9" y="82.9" font-size="16" textLength="35.4" lengthAdjust="spacingAndGlyphs">-400</text>
<text x="33.9" y="151.5" font-size="16" textLength="35.4" lengthAdjust="spacingAndGlyphs">-800</text>
<text x="108.6" y="162.3" font-size="16" text-anchor="middle">0</text>
<text x="182.2" y="162.3" font-size="16" text-anchor="middle">4</text>
<text x="255.8" y="162.3" font-size="16" text-anchor="middle">8</text>
<text x="295.6" y="19.9" font-size="14" font-weight="bold" textLength="20" lengthAdjust="spacingAndGlyphs">P2</text>
<text x="276.9" y="39.1" font-size="15" textLength="56.3" lengthAdjust="spacingAndGlyphs">km 1.60</text>
<text x="371.4" y="39.4" font-size="13.5" font-style="italic" textLength="32.6" lengthAdjust="spacingAndGlyphs">≥504</text>
<text x="372.9" y="52.1" font-size="13.5" font-style="italic" textLength="28.9" lengthAdjust="spacingAndGlyphs">± 18</text>
<text x="375.1" y="65.7" font-size="13.5" font-style="italic" textLength="24.5" lengthAdjust="spacingAndGlyphs">mm</text>
<text x="321.2" y="108.6" font-size="16" text-anchor="middle">0</text>
<text x="395.2" y="108.6" font-size="16" text-anchor="middle">4</text>
<text x="457.8" y="23.3" font-size="14" font-weight="bold" textLength="18.4" lengthAdjust="spacingAndGlyphs">P4</text>
<text x="440.4" y="40.2" font-size="14.8" textLength="51.2" lengthAdjust="spacingAndGlyphs">km 1.71</text>
<text x="564.9" y="26" font-size="13" font-style="italic" textLength="23" lengthAdjust="spacingAndGlyphs">281</text>
<text x="562.9" y="39.8" font-size="13" font-style="italic" textLength="28.3" lengthAdjust="spacingAndGlyphs">± 12</text>
<text x="564.5" y="52.9" font-size="13" font-style="italic" textLength="24.2" lengthAdjust="spacingAndGlyphs">mm</text>
<text x="616.6" y="15.2" font-size="16.5" textLength="10.2" lengthAdjust="spacingAndGlyphs">0</text>
<text x="616.6" y="78.6" font-size="16.5" textLength="36.7" lengthAdjust="spacingAndGlyphs">-400</text>
<text x="444.7" y="90.8" font-size="16" text-anchor="middle">0</text>
<text x="519.5" y="90.8" font-size="16" text-anchor="middle">4</text>
<text x="594.3" y="90.8" font-size="16" text-anchor="middle">8</text>
<text x="102.8" y="199.6" font-size="16.5" font-weight="bold" textLength="18.9" lengthAdjust="spacingAndGlyphs">P3</text>
<text x="83.5" y="218.6" font-size="16" textLength="54.7" lengthAdjust="spacingAndGlyphs">km 1.71</text>
<text x="266.2" y="225.5" font-size="15" font-style="italic" textLength="84" lengthAdjust="spacingAndGlyphs">390 ± 10 mm</text>
<text x="68.7" y="188.7" font-size="16" text-anchor="end">0</text>
<text x="34.6" y="257.8" font-size="16" textLength="34.7" lengthAdjust="spacingAndGlyphs">-400</text>
<text x="104" y="292.8" font-size="16.5" font-weight="bold" textLength="18.9" lengthAdjust="spacingAndGlyphs">P5</text>
<text x="82.9" y="308.5" font-size="16" textLength="56.4" lengthAdjust="spacingAndGlyphs">km 1.73</text>
<text x="356.4" y="319.3" font-size="15" font-style="italic" textLength="84.6" lengthAdjust="spacingAndGlyphs">473 ± 32 mm</text>
<text x="67.6" y="278.9" font-size="16" text-anchor="end">0</text>
<text x="33.5" y="347.4" font-size="16" textLength="34.3" lengthAdjust="spacingAndGlyphs">-400</text>
<text x="109" y="383.5" font-size="16" text-anchor="middle">0</text>
<text x="182.84" y="383.5" font-size="16" text-anchor="middle">4</text>
<text x="256.68" y="383.5" font-size="16" text-anchor="middle">8</text>
<text x="330.52" y="383.5" font-size="16" text-anchor="middle">12</text>
<text x="404.36" y="383.5" font-size="16" text-anchor="middle">16</text>
<text x="478.2" y="383.5" font-size="16" text-anchor="middle">20</text>
<text x="552.04" y="383.5" font-size="16" text-anchor="middle">24</text>
<text x="625.88" y="383.5" font-size="16" text-anchor="middle">28</text>
<text x="106.9" y="411.5" font-size="16.5" font-weight="bold" textLength="20.2" lengthAdjust="spacingAndGlyphs">P6</text>
<text x="87.9" y="427.6" font-size="16" textLength="55.5" lengthAdjust="spacingAndGlyphs">km 2.01</text>
<text x="93.8" y="472" font-size="14.5" textLength="91.7" lengthAdjust="spacingAndGlyphs">section of wall</text>
<text x="139.7" y="486" font-size="14.5" text-anchor="middle">constructed</text>
<text x="139.7" y="500" font-size="14.5" text-anchor="middle">separately</text>
<text x="246.4" y="471" font-size="15" font-style="italic" textLength="83.5" lengthAdjust="spacingAndGlyphs">776 ± 24 mm</text>
<text x="74.4" y="404.1" font-size="16" text-anchor="end">0</text>
<text x="39.3" y="473.2" font-size="16" textLength="35.5" lengthAdjust="spacingAndGlyphs">-400</text>
<text x="39.3" y="541.6" font-size="16" textLength="35.5" lengthAdjust="spacingAndGlyphs">-800</text>
<text x="85.3" y="560" font-size="16" text-anchor="middle">0</text>
<text x="158.9" y="560" font-size="16" text-anchor="middle">4</text>
<text x="232.5" y="560" font-size="16" text-anchor="middle">8</text>
<text x="306.1" y="560" font-size="16" text-anchor="middle">12</text>
<text x="379.7" y="560" font-size="16" text-anchor="middle">16</text>
<text x="109.6" y="587.7" font-size="16.5" font-weight="bold" textLength="19.9" lengthAdjust="spacingAndGlyphs">P7</text>
<text x="88.6" y="603.8" font-size="16" textLength="55.2" lengthAdjust="spacingAndGlyphs">km 2.11</text>
<text x="264.2" y="616" font-size="15" font-style="italic" textLength="80.4" lengthAdjust="spacingAndGlyphs">417± 22 mm</text>
<text x="354.8" y="579.7" font-size="16.5" textLength="9.9" lengthAdjust="spacingAndGlyphs">0</text>
<text x="355.6" y="640.1" font-size="16" textLength="33.3" lengthAdjust="spacingAndGlyphs">-400</text>
<text x="86.3" y="655.7" font-size="16" text-anchor="middle">0</text>
<text x="159.1" y="655.7" font-size="16" text-anchor="middle">4</text>
<text x="231.9" y="655.7" font-size="16" text-anchor="middle">8</text>
<text x="304.7" y="655.7" font-size="16" text-anchor="middle">12</text>
<text x="567.1" y="458.9" font-size="14.5" font-style="italic" textLength="91.3" lengthAdjust="spacingAndGlyphs">≥205 ± 20 mm</text>
<text x="612.4" y="477" font-size="16" font-weight="bold" text-anchor="middle">S1</text>
<text x="583.9" y="493.7" font-size="16" textLength="57" lengthAdjust="spacingAndGlyphs">km 5.85</text>
<text x="474" y="442.5" font-size="16" text-anchor="middle">0</text>
<text x="444.3" y="510" font-size="16" textLength="34" lengthAdjust="spacingAndGlyphs">-400</text>
<text x="498.9" y="521.2" font-size="16" text-anchor="middle">0</text>
<text x="572.78" y="521.2" font-size="16" text-anchor="middle">4</text>
<text x="646.66" y="521.2" font-size="16" text-anchor="middle">8</text>
<text x="575.7" y="577.5" font-size="14.5" font-style="italic" textLength="84.6" lengthAdjust="spacingAndGlyphs">232 ± 32 mm</text>
<text x="625.5" y="596.3" font-size="16" font-weight="bold" text-anchor="middle">S2</text>
<text x="596.9" y="611.2" font-size="16" textLength="56.3" lengthAdjust="spacingAndGlyphs">km 5.88</text>
<text x="473.9" y="559.4" font-size="16" text-anchor="middle">0</text>
<text x="444.3" y="626.7" font-size="16" textLength="34" lengthAdjust="spacingAndGlyphs">-400</text>
<text x="500.7" y="638.7" font-size="16" text-anchor="middle">0</text>
<text x="573.3" y="638.7" font-size="16" text-anchor="middle">4</text>
<text x="645.9" y="638.7" font-size="16" text-anchor="middle">8</text>
<text x="100" y="694.6" font-size="15.5" font-weight="bold" textLength="17.9" lengthAdjust="spacingAndGlyphs">B1</text>
<text x="76" y="710.5" font-size="15" textLength="65.7" lengthAdjust="spacingAndGlyphs">km 93.60</text>
<text x="324.2" y="736" font-size="15" font-style="italic" textLength="85" lengthAdjust="spacingAndGlyphs">525 ± 64 mm</text>
<text x="61.8" y="690.9" font-size="16" text-anchor="end">0</text>
<text x="27.8" y="760.3" font-size="16" textLength="34.6" lengthAdjust="spacingAndGlyphs">-400</text>
<text x="115.7" y="820" font-size="16" text-anchor="middle">20</text>
<text x="214.5" y="820" font-size="16" text-anchor="middle">40</text>
<text x="313.3" y="820" font-size="16" text-anchor="middle">60</text>
<text x="412.1" y="820" font-size="16" text-anchor="middle">80</text>
<text x="510.9" y="820" font-size="16" text-anchor="middle">100</text>
<text x="94.1" y="850.8" font-size="14.5" font-weight="bold" textLength="20.2" lengthAdjust="spacingAndGlyphs">B2</text>
<text x="70.8" y="866.8" font-size="15" textLength="64.7" lengthAdjust="spacingAndGlyphs">km 93.77</text>
<text x="317.4" y="875" font-size="15" font-style="italic" textLength="84.7" lengthAdjust="spacingAndGlyphs">333 ± 46 mm</text>
<text x="59" y="849.9" font-size="16" text-anchor="end">0</text>
<text x="25.5" y="919.9" font-size="16" textLength="33.3" lengthAdjust="spacingAndGlyphs">-400</text>
<text x="85.4" y="939.7" font-size="16" text-anchor="middle">0</text>
<text x="162.6" y="939.7" font-size="16" text-anchor="middle">20</text>
<text x="239.8" y="939.7" font-size="16" text-anchor="middle">40</text>
<text x="317" y="939.7" font-size="16" text-anchor="middle">60</text>
<text x="394.2" y="939.7" font-size="16" text-anchor="middle">80</text>
<text x="471.4" y="939.7" font-size="16" text-anchor="middle">100</text>
<text x="548.6" y="939.7" font-size="16" text-anchor="middle">120</text>
<text x="625.8" y="939.7" font-size="16" text-anchor="middle">140</text>
<text x="69.9" y="962.9" font-size="16" style="stroke-width:0.1px" textLength="40.4" lengthAdjust="spacingAndGlyphs">West</text>
<text x="243.4" y="962.9" font-size="16" style="stroke-width:0.1px" textLength="219.3" lengthAdjust="spacingAndGlyphs">Distance along feature (m)</text>
<text x="642.9" y="961.5" font-size="16" style="stroke-width:0.1px" textLength="33.8" lengthAdjust="spacingAndGlyphs">East</text>
<text x="14.9" y="591.8" font-size="19.5" style="stroke-width:0.1px" textLength="259.7" lengthAdjust="spacingAndGlyphs" transform="rotate(-90 14.9 591.8)">Accumulated sinistral slip (mm)</text>
</svg></body></html>
